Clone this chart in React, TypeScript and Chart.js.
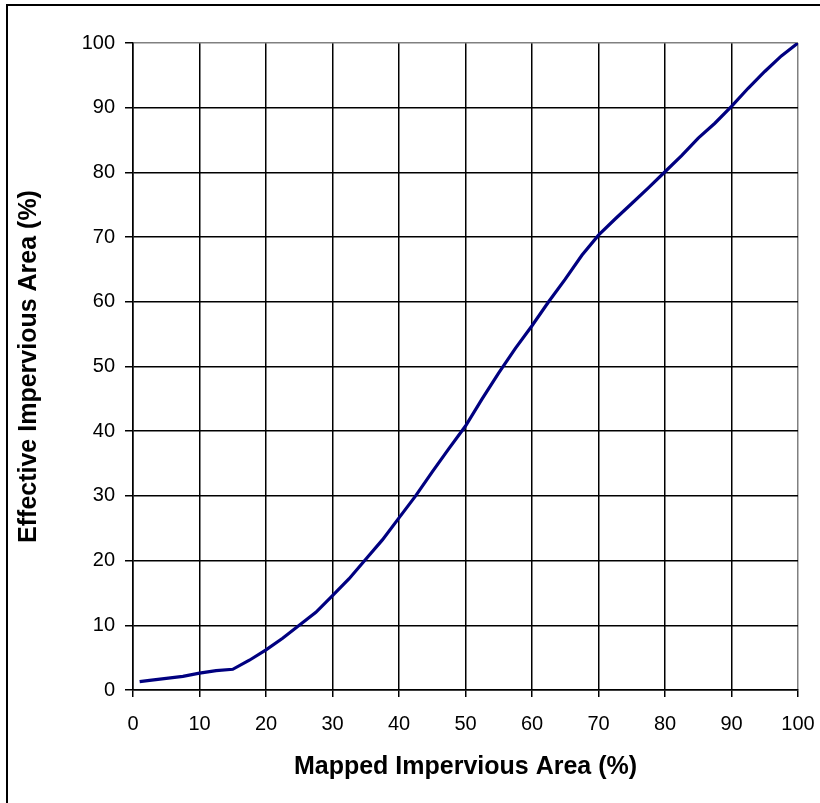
import React, { useEffect, useRef } from "react";
import { Chart, registerables } from "chart.js";

Chart.register(...registerables);

const mappedImpervious = [
  1, 2.5, 5, 7.5, 10, 12.5, 15, 17.5, 20, 22.5, 25, 27.5, 30, 32.5, 35, 37.5,
  40, 42.5, 45, 47.5, 50, 52.5, 55, 57.5, 60, 62.5, 65, 67.5, 70, 72.5, 75,
  77.5, 80, 82.5, 85, 87.5, 90, 92.5, 95, 97.5, 100,
];
const effectiveImpervious = [
  1.3, 1.5, 1.8, 2.1, 2.6, 3.0, 3.2, 4.6, 6.2, 8.0, 10.0, 12.0, 14.6, 17.2,
  20.2, 23.2, 26.6, 30.0, 33.7, 37.3, 40.8, 45.0, 49.0, 52.8, 56.3, 60.0, 63.5,
  67.2, 70.3, 72.8, 75.2, 77.6, 80.1, 82.6, 85.3, 87.6, 90.2, 93.0, 95.6, 98.0,
  100,
];
const xTitle = "Mapped Impervious Area (%)";
const yTitle = "Effective Impervious Area (%)";

const FONT = "'Liberation Sans', Arial, sans-serif";

export default function App() {
  const ref = useRef<HTMLCanvasElement | null>(null);

  useEffect(() => {
    document.body.style.margin = "0";
    const canvas = ref.current;
    if (!canvas) return;
    const points = mappedImpervious.map((x, i) => ({ x, y: effectiveImpervious[i] }));

    const frame = {
      id: "frame",
      beforeDraw(chart: any) {
        const ctx = chart.ctx;
        ctx.save();
        ctx.fillStyle = "#ffffff";
        ctx.fillRect(0, 0, chart.width, chart.height);
        ctx.strokeStyle = "#000000";
        ctx.lineWidth = 2;
        ctx.beginPath();
        ctx.moveTo(7, chart.height + 5);
        ctx.lineTo(7, 5);
        ctx.lineTo(chart.width + 5, 5);
        ctx.stroke();
        ctx.restore();
      },
    };

    const chart = new Chart(canvas, {
      type: "scatter",
      data: {
        datasets: [
          {
            data: points,
            showLine: true,
            borderColor: "#000080",
            borderWidth: 3.2,
            pointRadius: 0,
            tension: 0,
            fill: false,
          },
        ],
      },
      options: {
        animation: false,
        responsive: false,
        devicePixelRatio: 1,
        layout: { padding: { top: 43, right: 22, left: 0, bottom: 0 } },
        plugins: {
          legend: { display: false },
          tooltip: { enabled: false },
        },
        scales: {
          x: {
            type: "linear",
            min: 0,
            max: 100,
            afterFit(scale: any) {
              scale.height = 113;
              scale.paddingLeft = 0;
              scale.paddingRight = 0;
            },
            ticks: {
              stepSize: 10,
              color: "#000",
              font: { family: FONT, size: 20 },
              padding: 15,
              maxRotation: 0,
            },
            grid: {
              color: (c: any) => (c.tick && c.tick.value === 100 ? "#808080" : "#000000"),
              lineWidth: 1.5,
              tickColor: "#000000",
              tickLength: 7,
              drawTicks: true,
            },
            border: { color: "#000000", width: 1.5 },
            title: {
              display: true,
              text: xTitle,
              color: "#000",
              font: { family: FONT, size: 25, weight: "bold" },
              padding: { top: 0, bottom: 21 },
            },
          },
          y: {
            type: "linear",
            min: 0,
            max: 100,
            afterFit(scale: any) {
              scale.width = 133;
              scale.paddingTop = 0;
              scale.paddingBottom = 0;
            },
            ticks: {
              stepSize: 10,
              color: "#000",
              font: { family: FONT, size: 20 },
              padding: 10,
            },
            grid: {
              color: (c: any) => (c.tick && c.tick.value === 100 ? "#808080" : "#000000"),
              lineWidth: 1.5,
              tickColor: "#000000",
              tickLength: 8,
              drawTicks: true,
            },
            border: { color: "#000000", width: 1.5 },
            title: {
              display: true,
              text: yTitle,
              color: "#000",
              font: { family: FONT, size: 25, weight: "bold" },
              padding: { top: 14, bottom: 0 },
            },
          },
        },
      },
      plugins: [frame],
    } as any);

    return () => chart.destroy();
  }, []);

  return (
    <div style={{ width: 820, height: 803 }}>
      <canvas ref={ref} width={820} height={803} style={{ display: "block" }} />
    </div>
  );
}
